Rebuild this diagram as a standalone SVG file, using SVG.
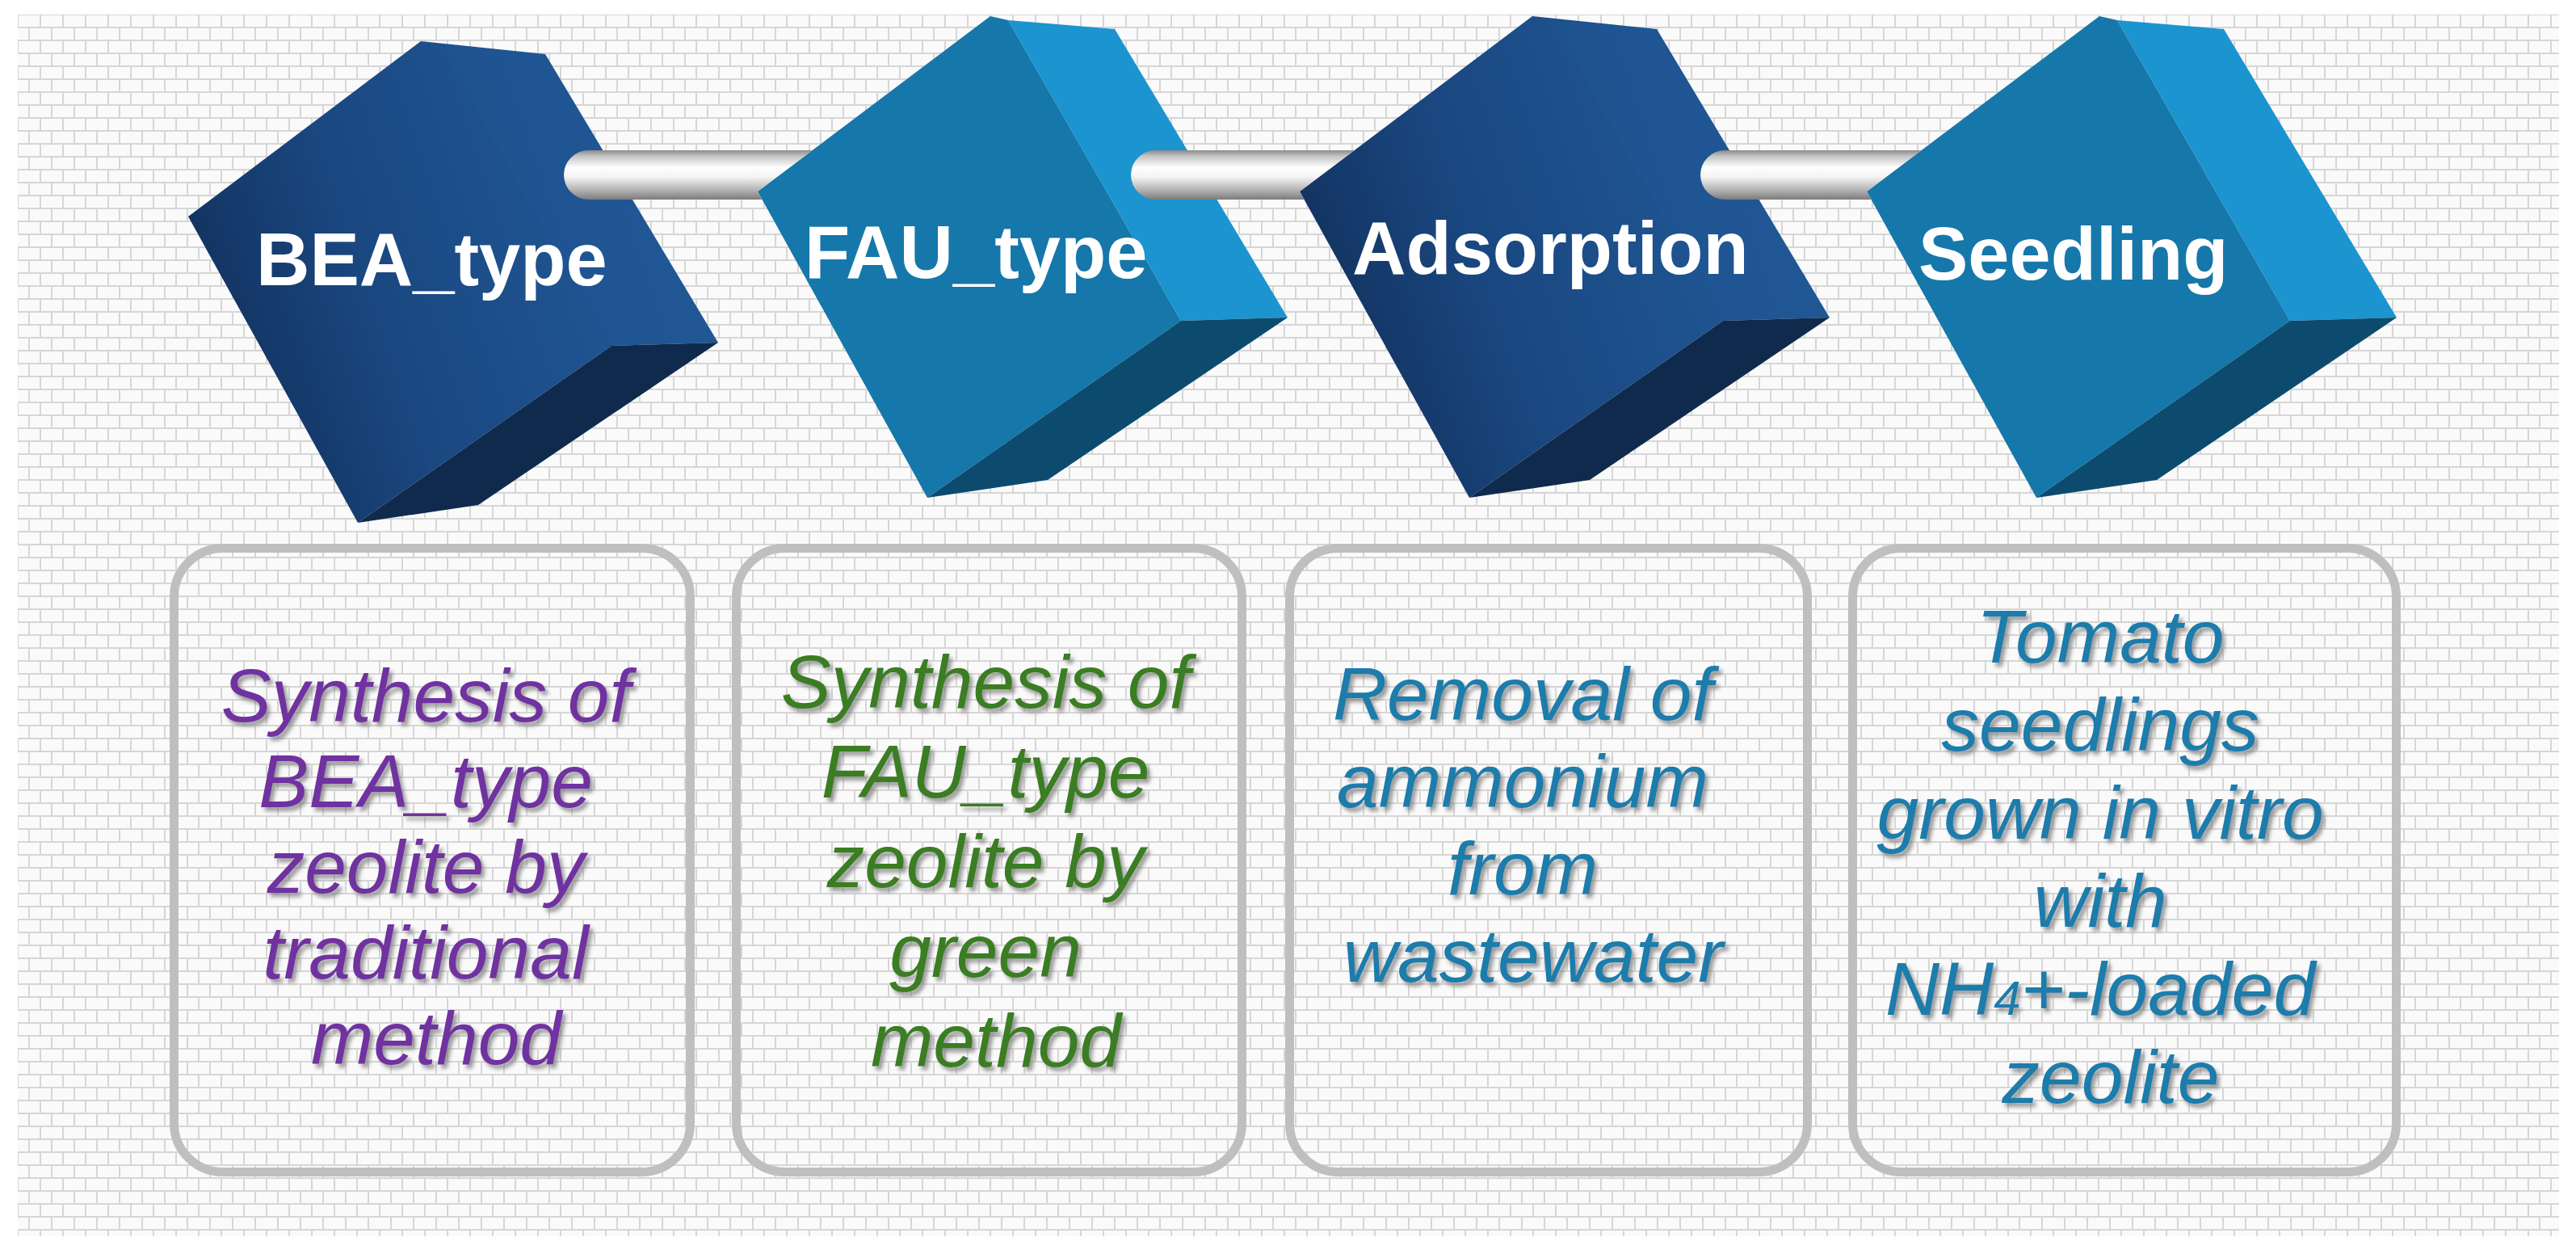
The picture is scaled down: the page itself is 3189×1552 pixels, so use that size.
<svg xmlns="http://www.w3.org/2000/svg" width="3189" height="1552" viewBox="0 0 3189 1552">
<defs>
<pattern id="brick" x="22" y="18" width="28" height="32" patternUnits="userSpaceOnUse">
<rect width="28" height="32" fill="#d6d6d6"/>
<rect x="1" y="1" width="26" height="14" fill="#fafafa"/>
<rect x="-13" y="17" width="26" height="14" fill="#fafafa"/>
<rect x="15" y="17" width="26" height="14" fill="#fafafa"/>
</pattern>
<linearGradient id="darkFront" x1="0" y1="0.65" x2="1" y2="0.35">
<stop offset="0" stop-color="#112f5a"/>
<stop offset="0.35" stop-color="#1a4780"/>
<stop offset="0.7" stop-color="#1e5390"/>
<stop offset="1" stop-color="#1f5793"/>
</linearGradient>
<linearGradient id="pipe" gradientUnits="userSpaceOnUse" x1="0" y1="186" x2="0" y2="247">
<stop offset="0" stop-color="#8a8a8a"/>
<stop offset="0.12" stop-color="#c4c4c4"/>
<stop offset="0.35" stop-color="#ffffff"/>
<stop offset="0.55" stop-color="#f2f2f2"/>
<stop offset="0.8" stop-color="#b4b4b4"/>
<stop offset="1" stop-color="#7c7c7c"/>
</linearGradient>
<filter id="shadow" x="-10%" y="-30%" width="120%" height="160%">
<feDropShadow dx="4" dy="5" stdDeviation="2.5" flood-color="#7a7a7a" flood-opacity="0.75"/>
</filter>
</defs>
<style>
.cubelabel{font-family:"Liberation Sans",Arial,sans-serif;font-weight:bold;font-size:92px;fill:#ffffff}
.box{fill:none;stroke:#bfbfbf;stroke-width:11}
.desc{font-family:"Liberation Sans",Arial,sans-serif;font-style:italic;font-size:93px;text-anchor:middle;filter:url(#shadow)}
.purple{fill:#7030a0}
.green{fill:#3b7d22}
.blue{fill:#1a7bab}
.dkbody{fill:url(#darkFront)}
.dkright{fill:#2a65a5;fill-opacity:0.12}
.dkbottom{fill:#0f2a4c}
.ltfront{fill:#1677aa}
.ltright{fill:#1b94cf}
.ltbottom{fill:#0c4b6e}
</style>
<rect width="3189" height="1552" fill="#ffffff"/>
<rect x="22" y="18" width="3146" height="1512" fill="url(#brick)"/>

<g id="node-bea">
<g transform="translate(233,268)">
<polygon class="dkbody" points="0,0 288,-217 442,-201 656,156 524,160 210,379"/>
<polygon class="dkright" points="310,-212 442,-201 656,156 524,160"/>
<polygon class="dkbottom" points="524,160 656,156 359,357 210,379"/>
</g>
<text class="cubelabel" x="317" y="353">BEA_type</text>
</g>

<g id="node-fau">
<g transform="translate(938,237)">
<polygon class="ltfront" points="0,0 288,-217 310,-212 524,160 210,379"/>
<polygon class="ltright" points="310,-212 442,-201 656,156 524,160"/>
<polygon class="ltbottom" points="524,160 656,156 359,357 210,379"/>
</g>
<text class="cubelabel" x="996" y="344">FAU_type</text>
</g>

<g id="node-adsorption">
<g transform="translate(1609,237)">
<polygon class="dkbody" points="0,0 288,-217 442,-201 656,156 524,160 210,379"/>
<polygon class="dkright" points="310,-212 442,-201 656,156 524,160"/>
<polygon class="dkbottom" points="524,160 656,156 359,357 210,379"/>
</g>
<text class="cubelabel" x="1674" y="339">Adsorption</text>
</g>

<g id="node-seedling">
<g transform="translate(2311,237)">
<polygon class="ltfront" points="0,0 288,-217 310,-212 524,160 210,379"/>
<polygon class="ltright" points="310,-212 442,-201 656,156 524,160"/>
<polygon class="ltbottom" points="524,160 656,156 359,357 210,379"/>
</g>
<text class="cubelabel" x="2375" y="346">Seedling</text>
</g>

<g id="connectors">
<path fill="url(#pipe)" d="M728.5,186 H1005.7 L938,237 L943.5,247 H728.5 A30.5,30.5 0 0 1 728.5,186 Z"/>
<path fill="url(#pipe)" d="M1430.5,186 H1676.7 L1609,237 L1614.5,247 H1430.5 A30.5,30.5 0 0 1 1430.5,186 Z"/>
<path fill="url(#pipe)" d="M2135.5,186 H2378.7 L2311,237 L2316.5,247 H2135.5 A30.5,30.5 0 0 1 2135.5,186 Z"/>
</g>

<g id="box-bea">
<rect class="box" x="215.5" y="678.5" width="639" height="772" rx="60"/>
<text class="desc purple">
<tspan x="540" y="893">Synthesis of</tspan>
<tspan x="540" y="999">BEA_type</tspan>
<tspan x="540" y="1105">zeolite by</tspan>
<tspan x="540" y="1211">traditional</tspan>
<tspan x="540" y="1317">method</tspan>
</text>
</g>

<g id="box-fau">
<rect class="box" x="911.5" y="678.5" width="626" height="772" rx="60"/>
<text class="desc green">
<tspan x="1233" y="876">Synthesis of</tspan>
<tspan x="1233" y="987">FAU_type</tspan>
<tspan x="1233" y="1098">zeolite by</tspan>
<tspan x="1233" y="1209">green</tspan>
<tspan x="1233" y="1320">method</tspan>
</text>
</g>

<g id="box-adsorption">
<rect class="box" x="1596.5" y="678.5" width="641" height="772" rx="60"/>
<text class="desc blue">
<tspan x="1898" y="891">Removal of</tspan>
<tspan x="1898" y="999">ammonium</tspan>
<tspan x="1898" y="1107">from</tspan>
<tspan x="1898" y="1215">wastewater</tspan>
</text>
</g>

<g id="box-seedling">
<rect class="box" x="2293.5" y="678.5" width="673" height="772" rx="60"/>
<text class="desc blue">
<tspan x="2613" y="820">Tomato</tspan>
<tspan x="2613" y="929">seedlings</tspan>
<tspan x="2613" y="1038">grown in vitro</tspan>
<tspan x="2613" y="1147">with</tspan>
<tspan x="2613" y="1256">NH<tspan font-size="60">4</tspan>+-loaded</tspan>
<tspan x="2613" y="1365">zeolite</tspan>
</text>
</g>
</svg>
